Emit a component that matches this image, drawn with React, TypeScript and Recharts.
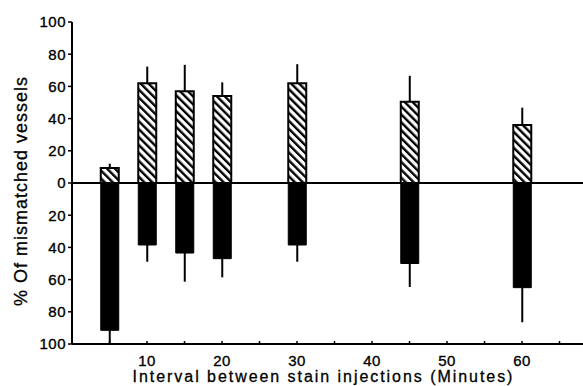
import React from "react";
import { BarChart, Bar, XAxis, YAxis, ErrorBar, ReferenceLine, Label } from "recharts";

const intervals = [5, 10, 15, 20, 30, 45, 60];
const hatchedValues = [9.3, 62, 57, 54, 62, 50.5, 36];
const hatchedErrors = [2.7, 10.3, 16.4, 8.5, 11.8, 16.1, 10.8];
const solidValues = [91.5, 38.5, 43.5, 47, 38.5, 50, 65];
const solidErrors = [8.5, 10.4, 17.8, 11.6, 10.4, 14.6, 21.5];
const xTicks = [5, 10, 15, 20, 25, 30, 35, 40, 45, 50, 55, 60, 65];
const yTicks = [-100, -80, -60, -40, -20, 0, 20, 40, 60, 80, 100];
const xLabel = "Interval between stain injections (Minutes)";
const yLabel = "% Of mismatched vessels";

const data = intervals.map((x, i) => ({
  x,
  hatched: hatchedValues[i],
  hatchedErr: [0, hatchedErrors[i]],
  solid: -solidValues[i],
  solidErr: [solidErrors[i], 0],
}));

const FONT = "'Liberation Sans', Arial, Helvetica, sans-serif";

const XTick = (props: any) => {
  const { x, y, payload } = props;
  const v = payload.value;
  return (
    <g>
      <line x1={x} y1={y} x2={x} y2={y - 3} stroke="#000" strokeWidth={1.5} />
      {v % 10 === 0 ? (
        <text
          x={x}
          y={y + 22}
          textAnchor="middle"
          fontSize={15}
          fontFamily={FONT}
          letterSpacing={0.5}
          fill="#000"
          stroke="#000"
          strokeWidth={0.35}
        >
          {v}
        </text>
      ) : null}
    </g>
  );
};

export default function App() {
  return (
    <div style={{ position: "absolute", left: 0, top: 0, background: "#fff" }}>
      <BarChart
        width={583}
        height={386}
        data={data}
        stackOffset="sign"
        margin={{ top: 22, right: 0, bottom: 0, left: 12 }}
      >
        <defs>
          <pattern id="hatch" patternUnits="userSpaceOnUse" width="5.6" height="5.6" patternTransform="rotate(-45)">
            <rect width="5.6" height="5.6" fill="#fff" />
            <line x1="1.2" y1="0" x2="1.2" y2="5.6" stroke="#000" strokeWidth="2.4" />
          </pattern>
        </defs>
        <XAxis
          dataKey="x"
          type="number"
          domain={[0, 68.13]}
          ticks={xTicks}
          interval={0}
          height={42}
          axisLine={{ stroke: "#000", strokeWidth: 2 }}
          tickLine={false}
          tickSize={0}
          tickMargin={0}
          tick={<XTick />}
        >
          <Label
            content={(p: any) => {
              const vb = p.viewBox;
              return (
                <text
                  x={vb.x + vb.width / 2 - 4}
                  y={vb.y + 38}
                  textAnchor="middle"
                  fontSize={16}
                  fontFamily={FONT}
                  letterSpacing={1.95}
                  fill="#000"
                  stroke="#000"
                  strokeWidth={0.3}
                >
                  {xLabel}
                </text>
              );
            }}
          />
        </XAxis>
        <YAxis
          type="number"
          domain={[-100, 100]}
          ticks={yTicks}
          interval={0}
          width={60}
          tickFormatter={(v: number) => String(Math.abs(v))}
          axisLine={{ stroke: "#000", strokeWidth: 2 }}
          tickLine={{ stroke: "#000", strokeWidth: 1.5 }}
          tickSize={4}
          tickMargin={2}
          tick={{ fill: "#000", stroke: "#000", strokeWidth: 0.35, fontSize: 15, fontFamily: FONT, letterSpacing: 0.5 }}
        >
          <Label
            content={(p: any) => {
              const vb = p.viewBox;
              const cx = vb.x + 9;
              const cy = vb.y + vb.height / 2 + 8;
              return (
                <text
                  x={cx}
                  y={cy}
                  transform={`rotate(-90, ${cx}, ${cy})`}
                  textAnchor="middle"
                  dominantBaseline="central"
                  fontSize={18}
                  fontFamily={FONT}
                  letterSpacing={1}
                  fill="#000"
                  stroke="#000"
                  strokeWidth={0.3}
                >
                  {yLabel}
                </text>
              );
            }}
          />
        </YAxis>
        <Bar dataKey="hatched" stackId="a" barSize={18} fill="url(#hatch)" stroke="#000" strokeWidth={2} isAnimationActive={false}>
          <ErrorBar dataKey="hatchedErr" width={0} stroke="#000" strokeWidth={2} direction="y" />
        </Bar>
        <Bar dataKey="solid" stackId="a" barSize={18} fill="#000" stroke="#000" strokeWidth={1} isAnimationActive={false}>
          <ErrorBar dataKey="solidErr" width={0} stroke="#000" strokeWidth={2} direction="y" />
        </Bar>
        <ReferenceLine y={0} stroke="#000" strokeWidth={2} />
      </BarChart>
    </div>
  );
}
